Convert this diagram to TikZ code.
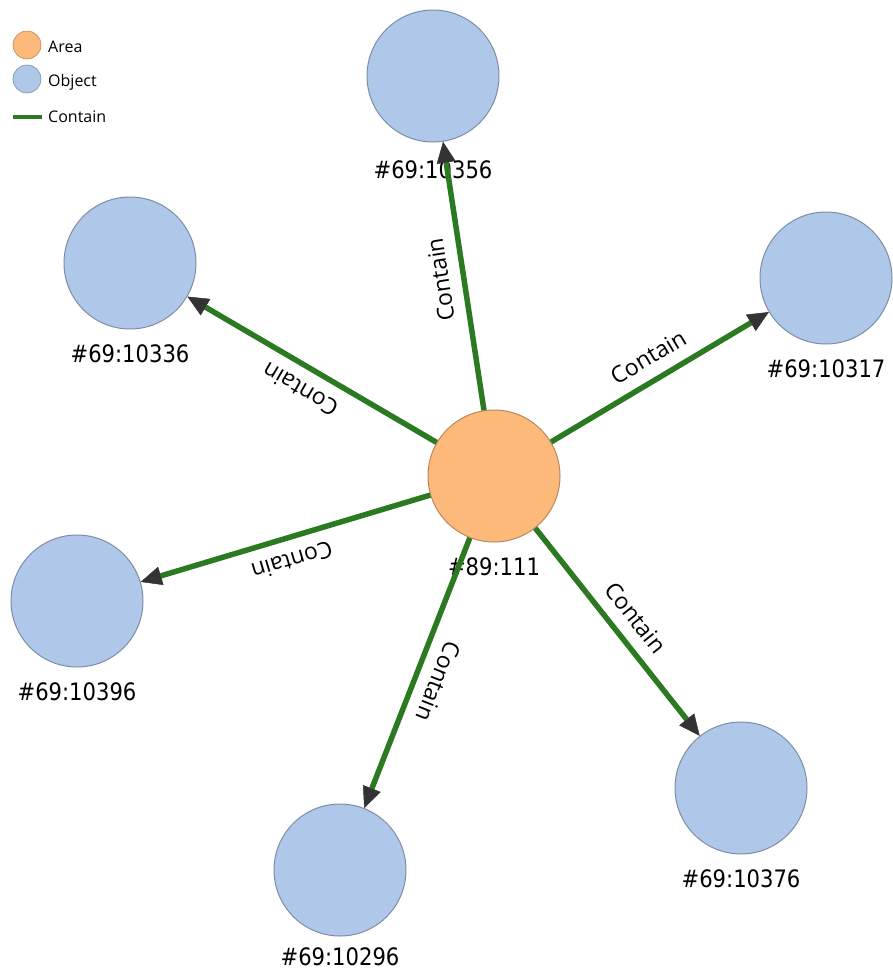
\documentclass[tikz,border=0pt]{standalone}
\usepackage{fontspec}
\setmainfont{DejaVu Sans}
\newfontfamily\idfont[FakeStretch=0.88]{DejaVu Sans}
\newfontfamily\relfont{Open Sans}
\usetikzlibrary{arrows.meta, positioning}

\definecolor{AreaFill}{HTML}{FDB979}
\definecolor{AreaLine}{HTML}{B9875E}
\definecolor{ObjectFill}{HTML}{AFC7E8}
\definecolor{ObjectLine}{HTML}{7D8DA6}
\definecolor{ContainGreen}{HTML}{2B7A22}
\definecolor{ArrowGray}{HTML}{333333}

\begin{document}
\begin{tikzpicture}[x=1pt, y=-1pt,
    area/.style={circle, fill=AreaFill, draw=AreaLine, line width=1pt, minimum size=132pt, inner sep=0pt},
    object/.style={circle, fill=ObjectFill, draw=ObjectLine, line width=1pt, minimum size=132pt, inner sep=0pt},
    nodeid/.style={inner sep=0pt, font=\idfont\fontsize{24}{24}\selectfont},
    contain/.style={draw=ContainGreen, line width=5.5pt, -{Triangle[length=21pt, width=19pt, line width=0.5pt, color=ArrowGray]}},
    relation/.style={font=\relfont\fontsize{23}{23}\selectfont, sloped, allow upside down, above=10pt, inner sep=2pt},
    legendtext/.style={anchor=base west, inner sep=0pt, font=\relfont\fontsize{16}{16}\selectfont}]

    \useasboundingbox (0,0) rectangle (893,972);

    % Legend
    \node (LegendArea) at (27,45) [circle, fill=AreaFill, draw=AreaLine, line width=0.6pt, minimum size=28pt, inner sep=0pt]{};
    \node (LegendAreaText) at (48,52) [legendtext]{Area};
    \node (LegendObject) at (27,79) [circle, fill=ObjectFill, draw=ObjectLine, line width=0.6pt, minimum size=28pt, inner sep=0pt]{};
    \node (LegendObjectText) at (48,86) [legendtext]{Object};
    \coordinate (LegendLineStart) at (13,117);
    \coordinate (LegendLineEnd) at (42,117);
    \draw[ContainGreen, line width=4pt] (LegendLineStart) -- (LegendLineEnd);
    \node (LegendContainText) at (48,122) [legendtext]{Contain};

    % Area
    \node (Area) at (494,476) [area]{};
    \node (AreaText) [nodeid, below=15pt of Area]{\#89:111};

    % Objects
    \node (Obj10356) at (433,76) [object]{};
    \node (Obj10356Text) [nodeid, below=18pt of Obj10356]{\#69:10356};

    \node (Obj10336) at (130,263) [object]{};
    \node (Obj10336Text) [nodeid, below=15pt of Obj10336]{\#69:10336};

    \node (Obj10317) at (826,278) [object]{};
    \node (Obj10317Text) [nodeid, below=15pt of Obj10317]{\#69:10317};

    \node (Obj10396) at (77,601) [object]{};
    \node (Obj10396Text) [nodeid, below=15pt of Obj10396]{\#69:10396};

    \node (Obj10296) at (340,870) [object]{};
    \node (Obj10296Text) [nodeid, below=11pt of Obj10296]{\#69:10296};

    \node (Obj10376) at (741,788) [object]{};
    \node (Obj10376Text) [nodeid, below=15pt of Obj10376]{\#69:10376};

    % Contain edges
    \draw[contain] (Area) -- node[relation]{Contain} (Obj10356);
    \draw[contain] (Area) -- node[relation]{Contain} (Obj10336);
    \draw[contain] (Area) -- node[relation]{Contain} (Obj10317);
    \draw[contain] (Area) -- node[relation]{Contain} (Obj10396);
    \draw[contain] (Area) -- node[relation]{Contain} (Obj10296);
    \draw[contain] (Area) -- node[relation]{Contain} (Obj10376);

\end{tikzpicture}
\end{document}
